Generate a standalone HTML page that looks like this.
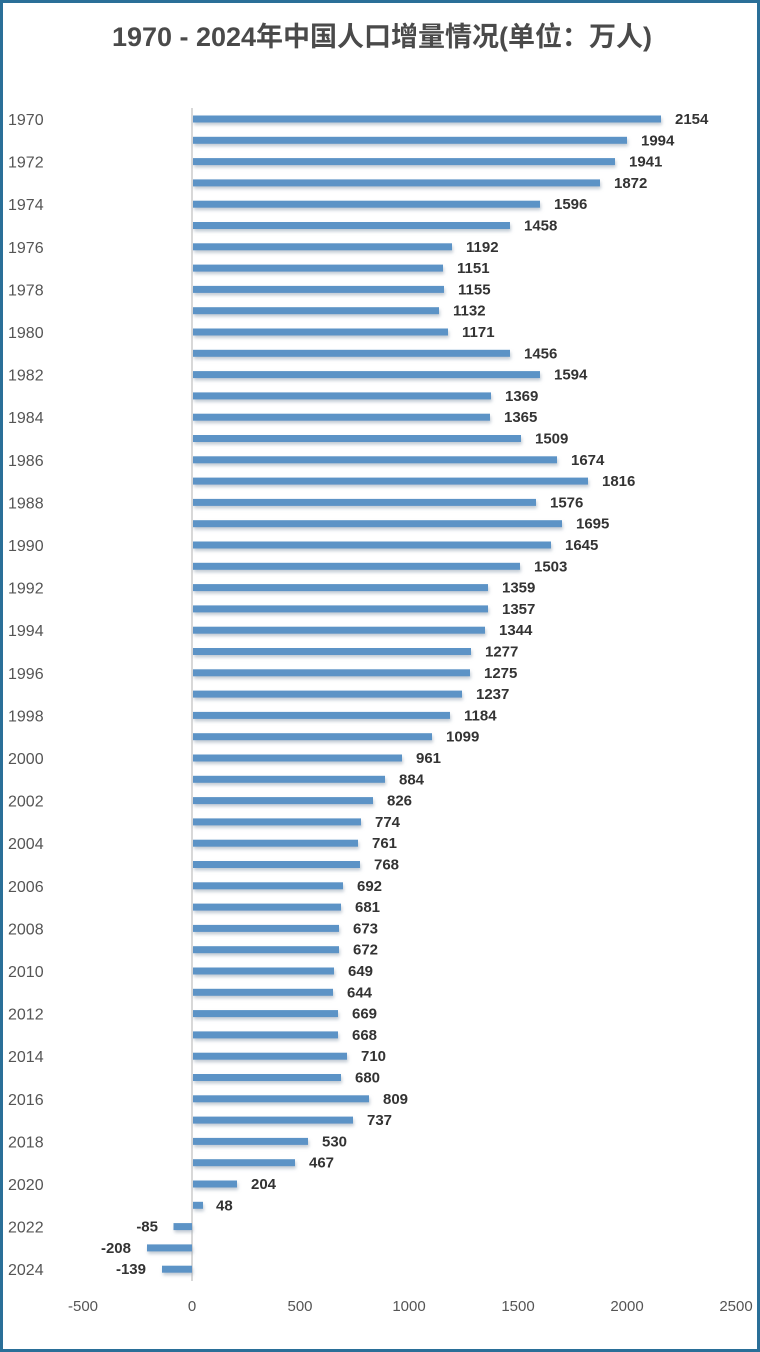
<!DOCTYPE html>
<html><head><meta charset="utf-8"><style>
html,body{margin:0;padding:0;background:#fff}
svg{display:block}
.y{font:16px "Liberation Sans","Noto Sans CJK SC",sans-serif;fill:#555}
.v{font:bold 15px "Liberation Sans",sans-serif;fill:#333}
.t{font:15px "Liberation Sans",sans-serif;fill:#555}
</style></head><body>
<svg width="760" height="1352" xmlns="http://www.w3.org/2000/svg">
<defs><filter id="s" x="-5%" y="-50%" width="110%" height="250%"><feDropShadow dx="1" dy="2.5" stdDeviation="1.5" flood-color="#9aa8b8" flood-opacity="0.6"/></filter></defs>
<rect x="1.5" y="1.5" width="757" height="1349" fill="#fff" stroke="#2a6f98" stroke-width="3"/>
<text x="382" y="46" text-anchor="middle" style="font:bold 27px 'Liberation Sans','Noto Sans CJK SC',sans-serif;fill:#4a4a4a">1970 - 2024年中国人口增量情况(单位：万人)</text>
<line x1="192" y1="108" x2="192" y2="1281" stroke="#ccc" stroke-width="1.5"/>
<g fill="#5b93c6" filter="url(#s)">
<rect x="193" y="115.5" width="468" height="7"/>
<rect x="193" y="136.8" width="434" height="7"/>
<rect x="193" y="158.1" width="422" height="7"/>
<rect x="193" y="179.4" width="407" height="7"/>
<rect x="193" y="200.7" width="347" height="7"/>
<rect x="193" y="222.0" width="317" height="7"/>
<rect x="193" y="243.3" width="259" height="7"/>
<rect x="193" y="264.6" width="250" height="7"/>
<rect x="193" y="285.9" width="251" height="7"/>
<rect x="193" y="307.2" width="246" height="7"/>
<rect x="193" y="328.5" width="255" height="7"/>
<rect x="193" y="349.8" width="317" height="7"/>
<rect x="193" y="371.1" width="347" height="7"/>
<rect x="193" y="392.4" width="298" height="7"/>
<rect x="193" y="413.7" width="297" height="7"/>
<rect x="193" y="435.0" width="328" height="7"/>
<rect x="193" y="456.3" width="364" height="7"/>
<rect x="193" y="477.6" width="395" height="7"/>
<rect x="193" y="498.9" width="343" height="7"/>
<rect x="193" y="520.2" width="369" height="7"/>
<rect x="193" y="541.5" width="358" height="7"/>
<rect x="193" y="562.8" width="327" height="7"/>
<rect x="193" y="584.1" width="295" height="7"/>
<rect x="193" y="605.4" width="295" height="7"/>
<rect x="193" y="626.7" width="292" height="7"/>
<rect x="193" y="648.0" width="278" height="7"/>
<rect x="193" y="669.3" width="277" height="7"/>
<rect x="193" y="690.6" width="269" height="7"/>
<rect x="193" y="711.9" width="257" height="7"/>
<rect x="193" y="733.2" width="239" height="7"/>
<rect x="193" y="754.5" width="209" height="7"/>
<rect x="193" y="775.8" width="192" height="7"/>
<rect x="193" y="797.1" width="180" height="7"/>
<rect x="193" y="818.4" width="168" height="7"/>
<rect x="193" y="839.7" width="165" height="7"/>
<rect x="193" y="861.0" width="167" height="7"/>
<rect x="193" y="882.3" width="150" height="7"/>
<rect x="193" y="903.6" width="148" height="7"/>
<rect x="193" y="924.9" width="146" height="7"/>
<rect x="193" y="946.2" width="146" height="7"/>
<rect x="193" y="967.5" width="141" height="7"/>
<rect x="193" y="988.8" width="140" height="7"/>
<rect x="193" y="1010.1" width="145" height="7"/>
<rect x="193" y="1031.4" width="145" height="7"/>
<rect x="193" y="1052.7" width="154" height="7"/>
<rect x="193" y="1074.0" width="148" height="7"/>
<rect x="193" y="1095.3" width="176" height="7"/>
<rect x="193" y="1116.6" width="160" height="7"/>
<rect x="193" y="1137.9" width="115" height="7"/>
<rect x="193" y="1159.2" width="102" height="7"/>
<rect x="193" y="1180.5" width="44" height="7"/>
<rect x="193" y="1201.8" width="10" height="7"/>
<rect x="173.5" y="1223.1" width="18.5" height="7"/>
<rect x="147" y="1244.4" width="45" height="7"/>
<rect x="162" y="1265.7" width="30" height="7"/>
</g>
<g class="v">
<text x="675" y="124">2154</text>
<text x="641" y="145.3">1994</text>
<text x="629" y="166.6">1941</text>
<text x="614" y="187.9">1872</text>
<text x="554" y="209.2">1596</text>
<text x="524" y="230.5">1458</text>
<text x="466" y="251.8">1192</text>
<text x="457" y="273.1">1151</text>
<text x="458" y="294.4">1155</text>
<text x="453" y="315.7">1132</text>
<text x="462" y="337">1171</text>
<text x="524" y="358.3">1456</text>
<text x="554" y="379.6">1594</text>
<text x="505" y="400.9">1369</text>
<text x="504" y="422.2">1365</text>
<text x="535" y="443.5">1509</text>
<text x="571" y="464.8">1674</text>
<text x="602" y="486.1">1816</text>
<text x="550" y="507.4">1576</text>
<text x="576" y="528.7">1695</text>
<text x="565" y="550">1645</text>
<text x="534" y="571.3">1503</text>
<text x="502" y="592.6">1359</text>
<text x="502" y="613.9">1357</text>
<text x="499" y="635.2">1344</text>
<text x="485" y="656.5">1277</text>
<text x="484" y="677.8">1275</text>
<text x="476" y="699.1">1237</text>
<text x="464" y="720.4">1184</text>
<text x="446" y="741.7">1099</text>
<text x="416" y="763">961</text>
<text x="399" y="784.3">884</text>
<text x="387" y="805.6">826</text>
<text x="375" y="826.9">774</text>
<text x="372" y="848.2">761</text>
<text x="374" y="869.5">768</text>
<text x="357" y="890.8">692</text>
<text x="355" y="912.1">681</text>
<text x="353" y="933.4">673</text>
<text x="353" y="954.7">672</text>
<text x="348" y="976">649</text>
<text x="347" y="997.3">644</text>
<text x="352" y="1018.6">669</text>
<text x="352" y="1039.9">668</text>
<text x="361" y="1061.2">710</text>
<text x="355" y="1082.5">680</text>
<text x="383" y="1103.8">809</text>
<text x="367" y="1125.1">737</text>
<text x="322" y="1146.4">530</text>
<text x="309" y="1167.7">467</text>
<text x="251" y="1189">204</text>
<text x="216" y="1210.3">48</text>
<text x="158" y="1231.6" text-anchor="end">-85</text>
<text x="131" y="1252.9" text-anchor="end">-208</text>
<text x="146" y="1274.2" text-anchor="end">-139</text>
</g>
<g class="y">
<text x="8" y="125">1970</text>
<text x="8" y="167.6">1972</text>
<text x="8" y="210.2">1974</text>
<text x="8" y="252.8">1976</text>
<text x="8" y="295.4">1978</text>
<text x="8" y="338">1980</text>
<text x="8" y="380.6">1982</text>
<text x="8" y="423.2">1984</text>
<text x="8" y="465.8">1986</text>
<text x="8" y="508.4">1988</text>
<text x="8" y="551">1990</text>
<text x="8" y="593.6">1992</text>
<text x="8" y="636.2">1994</text>
<text x="8" y="678.8">1996</text>
<text x="8" y="721.4">1998</text>
<text x="8" y="764">2000</text>
<text x="8" y="806.6">2002</text>
<text x="8" y="849.2">2004</text>
<text x="8" y="891.8">2006</text>
<text x="8" y="934.4">2008</text>
<text x="8" y="977">2010</text>
<text x="8" y="1019.6">2012</text>
<text x="8" y="1062.2">2014</text>
<text x="8" y="1104.8">2016</text>
<text x="8" y="1147.4">2018</text>
<text x="8" y="1190">2020</text>
<text x="8" y="1232.6">2022</text>
<text x="8" y="1275.2">2024</text>
</g>
<g class="t" text-anchor="middle">
<text x="83" y="1311">-500</text>
<text x="192" y="1311">0</text>
<text x="300" y="1311">500</text>
<text x="409" y="1311">1000</text>
<text x="518" y="1311">1500</text>
<text x="627" y="1311">2000</text>
<text x="736" y="1311">2500</text>
</g>
</svg>
</body></html>
